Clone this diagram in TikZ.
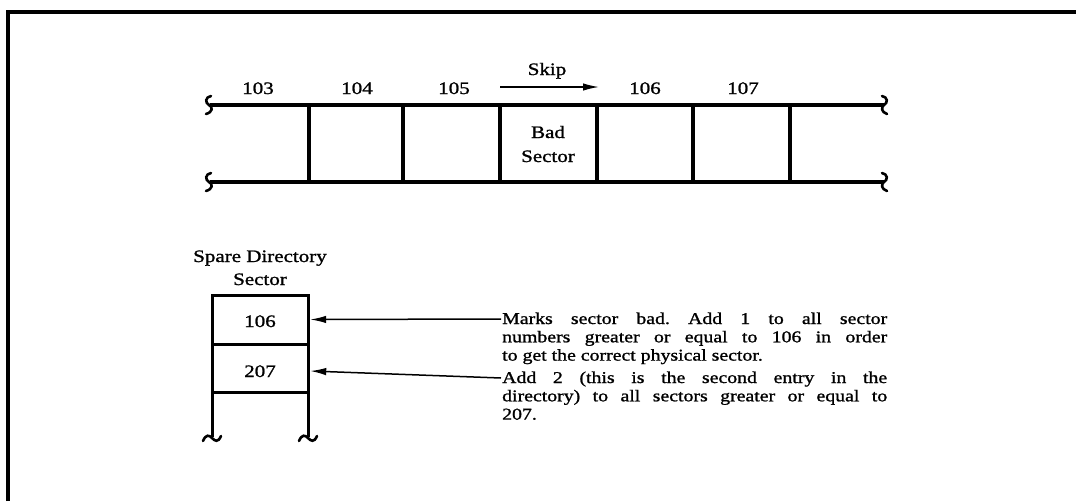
\documentclass[tikz,border=0pt]{standalone}
\usepackage{fontspec}
\setmainfont{Liberation Serif}[FakeStretch=1.2,FakeBold=1.2]
\usetikzlibrary{arrows.meta}
\frenchspacing
\tikzset{
  frameline/.style={line width=3.2pt},
  tapeline/.style={line width=3.8pt},
  divider/.style={line width=3.4pt},
  boxline/.style={line width=3pt},
  squiggle/.style={line width=2.6pt, line cap=round},
  ptr/.style={line width=1.5pt, -{Latex[length=16pt,width=7.5pt]}},
  lbl/.style={anchor=base, inner sep=0pt, font=\fontsize{17.5}{22}\selectfont},
  body/.style={anchor=base west, inner sep=0pt, font=\fontsize{16.5}{18.3}\selectfont},
}
\begin{document}
\begin{tikzpicture}[x=1pt,y=-1pt]
\useasboundingbox (0,0) rectangle (1076,501);
% frame (top and left edges)
\draw[frameline] (8,501) -- (8,12) -- (1076,12);

% tape
\draw[tapeline] (210,105) -- (884,105);
\draw[tapeline] (210,182) -- (884,182);
\draw[squiggle] (211,96) .. controls (205,97) and (205,103) .. (209,105) .. controls (213,107) and (213,112) .. (206,114);
\draw[squiggle] (211,173) .. controls (205,174) and (205,180) .. (209,182) .. controls (213,184) and (213,189) .. (206,191);
\draw[squiggle] (882,96) .. controls (888,97) and (888,103) .. (884,105) .. controls (881,107) and (881,112) .. (887,114);
\draw[squiggle] (882,173) .. controls (888,174) and (888,180) .. (884,182) .. controls (881,184) and (881,189) .. (887,191);
\foreach \x in {309,403,500,597,693,790} \draw[divider] (\x,105) -- (\x,182);

\node[lbl] (l103) at (258,94) {103};
\node[lbl] (l104) at (357,94) {104};
\node[lbl] (l105) at (454,94) {105};
\node[lbl] (l106) at (645,94) {106};
\node[lbl] (l107) at (743,94) {107};
\node[lbl] (skip) at (547,75) {Skip};
\coordinate (skipA) at (500,87);
\coordinate (skipB) at (599,87);
\draw[ptr] (skipA) -- (skipB);
\node[lbl] (bad) at (548,138) {\vtop{\baselineskip=24pt\halign{\hfil#\hfil\cr Bad\cr Sector\cr}}};

% spare directory sector
\node[lbl] (spare) at (260,262) {\vtop{\baselineskip=23pt\halign{\hfil#\hfil\cr Spare Directory\cr Sector\cr}}};
\node[inner sep=0pt, minimum width=96pt, minimum height=49pt] (c106) at (260,319.5) {};
\node[inner sep=0pt, minimum width=96pt, minimum height=48pt] (c207) at (260,368) {};
\node[lbl] at (260,327) {106};
\node[lbl] at (260,377) {207};
\draw[boxline] (212,437) -- (212,295) -- (308,295) -- (308,437);
\draw[boxline] (212,344) -- (308,344);
\draw[boxline] (212,392) -- (308,392);
\draw[squiggle] (203,441) .. controls (206,434) and (209,435) .. (212,438) .. controls (215,441) and (218,443) .. (221,436);
\draw[squiggle] (299,441) .. controls (302,434) and (305,435) .. (308,438) .. controls (311,441) and (314,443) .. (317,436);

% explanations
\node[body] (p1) at (502,324) {\vtop{\baselineskip=18.3pt
  \hbox to 385pt{Marks sector bad. Add 1 to all sector}
  \hbox to 385pt{numbers greater or equal to 106 in order}
  \hbox{to get the correct physical sector.}}};
\node[body] (p2) at (502,383) {\vtop{\baselineskip=18.3pt
  \hbox to 385pt{Add 2 (this is the second entry in the}
  \hbox to 385pt{directory) to all sectors greater or equal to}
  \hbox{207.}}};
\coordinate (a1) at ([xshift=-1pt,yshift=5pt]p1.base west);
\coordinate (a2) at ([xshift=-1pt,yshift=5pt]p2.base west);
\draw[ptr] (a1) -- ([xshift=2pt]c106.east);
\draw[ptr] (a2) -- ([xshift=2pt,yshift=-3pt]c207.east);
\end{tikzpicture}
\end{document}
